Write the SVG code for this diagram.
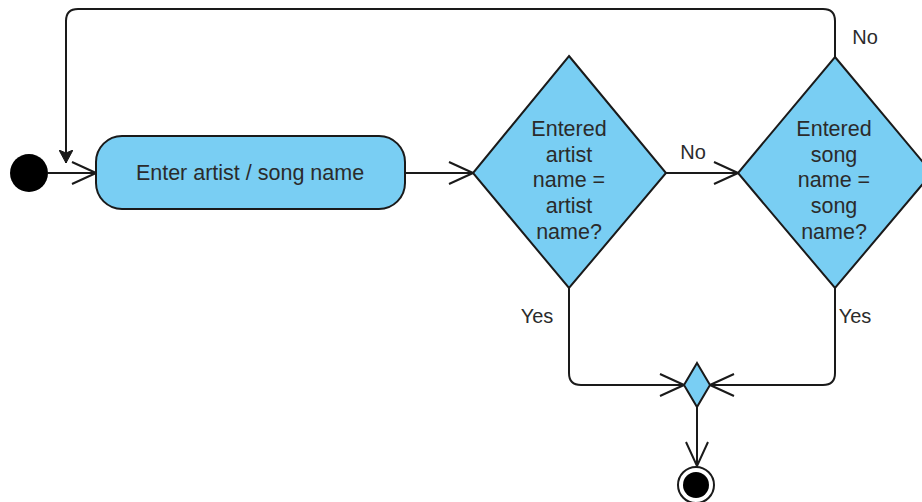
<svg xmlns="http://www.w3.org/2000/svg" width="922" height="502" viewBox="0 0 922 502">
  <defs>
    <style>
      .shape { fill: #79CEF3; stroke: #1a1a1a; stroke-width: 2; }
      .edge { fill: none; stroke: #1a1a1a; stroke-width: 2; }
      .label { font-family: "Liberation Sans", Arial, sans-serif; font-size: 21.5px; fill: #2b2b2b; text-anchor: middle; dominant-baseline: central; }
      .tag { font-family: "Liberation Sans", Arial, sans-serif; font-size: 20px; fill: #2b2b2b; text-anchor: middle; dominant-baseline: central; }
    </style>
    <marker id="open" viewBox="0 0 26 24" refX="25" refY="12" markerWidth="26" markerHeight="24" markerUnits="userSpaceOnUse" orient="auto">
      <path d="M1,1 L25,12 L1,23" fill="none" stroke="#1a1a1a" stroke-width="2"/>
    </marker>
    <marker id="block" viewBox="0 0 14 14" refX="13" refY="7" markerWidth="14" markerHeight="14" markerUnits="userSpaceOnUse" orient="auto">
      <path d="M0,0 L13,7 L0,14 L3,7 Z" fill="#1a1a1a" stroke="#1a1a1a" stroke-width="1"/>
    </marker>
  </defs>

  <rect width="922" height="502" fill="#ffffff"/>

  <!-- connectors -->
  <g id="edges">
    <path class="edge" d="M48,173 L96,173" marker-end="url(#open)"/>
    <path class="edge" d="M405,173 L473,173" marker-end="url(#open)"/>
    <path class="edge" d="M666,173 L738,173" marker-end="url(#open)"/>
    <path class="edge" d="M835,57 L835,21 Q835,9 823,9 L78,9 Q66,9 66,21 L66,163" marker-end="url(#block)"/>
    <path class="edge" d="M569,288 L569,373 Q569,385 581,385 L684,385" marker-end="url(#open)"/>
    <path class="edge" d="M835,288 L835,373 Q835,385 823,385 L710,385" marker-end="url(#open)"/>
    <path class="edge" d="M697,407 L697,466" marker-end="url(#open)"/>
  </g>

  <!-- edge labels -->
  <g id="edge-labels">
    <text class="tag" x="865" y="37">No</text>
    <text class="tag" x="693" y="152">No</text>
    <text class="tag" x="537" y="316">Yes</text>
    <text class="tag" x="855" y="316">Yes</text>
  </g>

  <g id="start">
    <circle cx="29" cy="173" r="19" fill="#000000"/>
  </g>

  <g id="enter-name">
    <rect class="shape" x="96" y="136" width="309" height="73" rx="26" ry="26"/>
    <text class="label" x="250" y="173">Enter artist / song name</text>
  </g>

  <g id="check-artist">
    <polygon class="shape" points="569,56 666,173 569,288 473,173"/>
    <text class="label" x="569" y="129">Entered</text>
    <text class="label" x="569" y="155">artist</text>
    <text class="label" x="569" y="180">name =</text>
    <text class="label" x="569" y="206">artist</text>
    <text class="label" x="569" y="232">name?</text>
  </g>

  <g id="check-song">
    <polygon class="shape" points="835,57 932,173 835,288 738,173"/>
    <text class="label" x="834" y="129">Entered</text>
    <text class="label" x="834" y="155">song</text>
    <text class="label" x="834" y="180">name =</text>
    <text class="label" x="834" y="206">song</text>
    <text class="label" x="834" y="232">name?</text>
  </g>

  <g id="merge">
    <polygon class="shape" points="697,363 710,385 697,407 684,385"/>
  </g>

  <g id="end">
    <circle cx="696" cy="485" r="18" fill="#ffffff" stroke="#1a1a1a" stroke-width="2"/>
    <circle cx="696" cy="485" r="13" fill="#000000"/>
  </g>
</svg>
